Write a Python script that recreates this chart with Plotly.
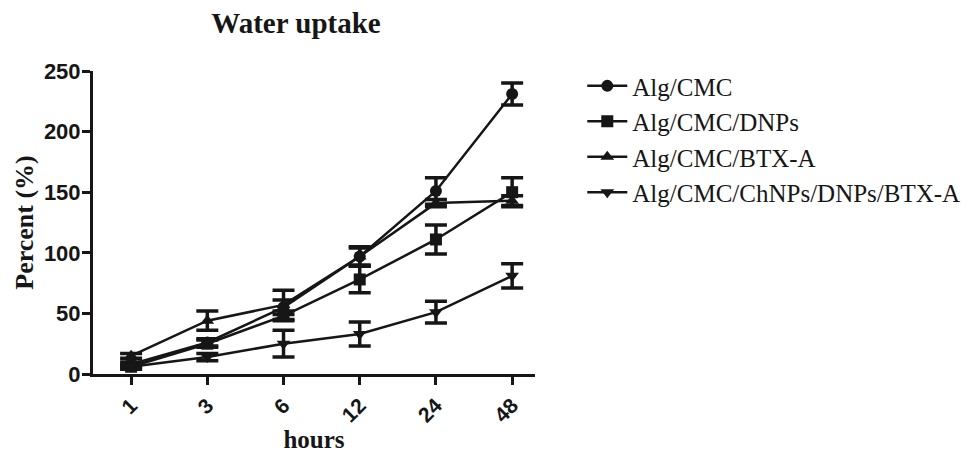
import plotly.graph_objects as go

hours = ["1", "3", "6", "12", "24", "48"]
names = ["Alg/CMC", "Alg/CMC/DNPs", "Alg/CMC/BTX-A", "Alg/CMC/ChNPs/DNPs/BTX-A"]
alg_cmc = [8, 26, 55, 97, 151, 231]
alg_cmc_err = [2, 3, 6, 7, 11, 9]
alg_dnps = [6, 25, 48, 78, 111, 150]
alg_dnps_err = [2, 3, 4, 11, 12, 12]
alg_btx = [15, 44, 57, 97, 141, 143]
alg_btx_err = [2, 8, 12, 8, 3, 4]
alg_all = [6, 14, 25, 33, 51, 81]
alg_all_err = [1, 3, 11, 10, 9, 10]

series = [alg_cmc, alg_dnps, alg_btx, alg_all]
errors = [alg_cmc_err, alg_dnps_err, alg_btx_err, alg_all_err]
symbols = ["circle", "square", "triangle-up", "triangle-down"]
ink = "#161616"

fig = go.Figure()
for i, (name, vals, err, sym) in enumerate(zip(names, series, errors, symbols)):
    fig.add_trace(go.Scatter(
        x=hours, y=vals, name=name, mode="lines+markers",
        legendgroup="g%d" % i,
        line=dict(color=ink, width=2.5),
        marker=dict(symbol=sym, size=12, color=ink),
        error_y=dict(type="data", array=err, visible=True, color=ink,
                     thickness=3.5, width=11),
        cliponaxis=False,
    ))

tick_font = dict(family="Liberation Sans", size=22, color=ink, weight="bold")
xtick_font = dict(family="Liberation Sans", size=21, color=ink, weight="bold")
fig.update_layout(
    width=970, height=453,
    margin=dict(l=93, r=435, t=71, b=79, autoexpand=False),
    paper_bgcolor="white", plot_bgcolor="white",
    title=dict(text="<b>Water uptake</b>", x=296 / 970, xanchor="center",
               y=1 - 23 / 453, yanchor="middle",
               font=dict(family="Liberation Serif", size=29, color=ink)),
    showlegend=True,
    legend=dict(x=1.107, y=1.026, xanchor="left", yanchor="top",
                font=dict(family="Liberation Serif", size=25, color=ink),
                tracegroupgap=0, traceorder="grouped", itemwidth=40,
                bgcolor="rgba(0,0,0,0)"),
    xaxis=dict(type="category", range=[-0.5, 5.3], showline=True,
               linecolor=ink, linewidth=3, ticks="outside", ticklen=8,
               tickwidth=3, tickcolor=ink, tickangle=-45, automargin=False,
               tickfont=xtick_font, showgrid=False, zeroline=False,
               title=dict(text="<b>hours</b>", standoff=4,
                          font=dict(family="Liberation Serif", size=25, color=ink))),
    yaxis=dict(range=[0, 250], tickvals=[0, 50, 100, 150, 200, 250],
               showline=True, linecolor=ink, linewidth=3, ticks="outside",
               ticklen=8, tickwidth=3, tickcolor=ink, tickfont=tick_font,
               ticklabelstandoff=-3,
               showgrid=False, zeroline=False, automargin=False,
               title=dict(text="<b>Percent (%)</b>", standoff=3,
                          font=dict(family="Liberation Serif", size=26, color=ink))),
)
fig.write_html("out.html", config={"displayModeBar": False},
               post_script="document.body.style.margin='0';")
